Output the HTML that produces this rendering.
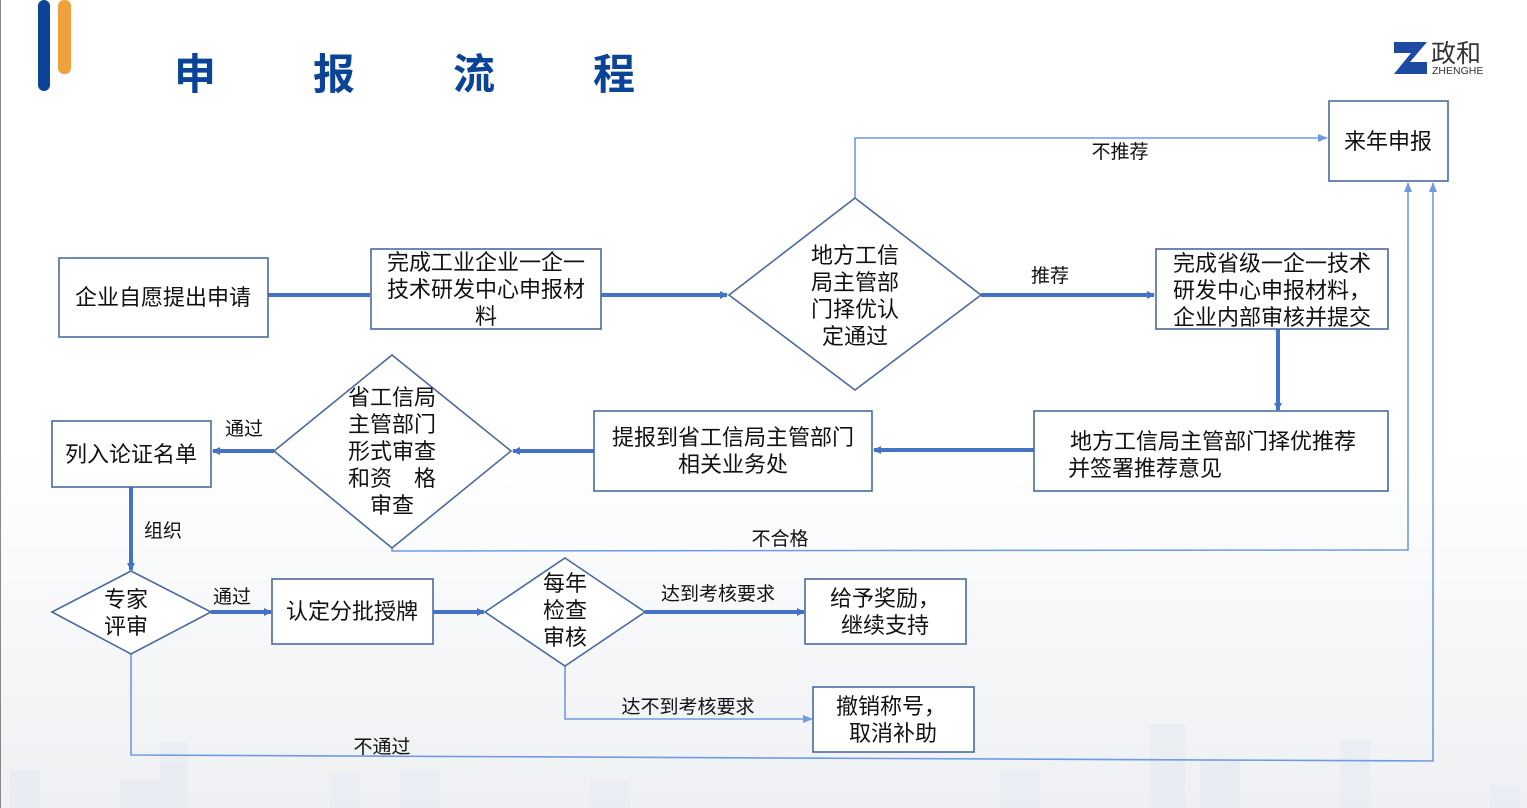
<!DOCTYPE html>
<html><head><meta charset="utf-8"><style>
html,body{margin:0;padding:0;width:1527px;height:808px;overflow:hidden;background:#fff}
svg{display:block}
text{font-family:"Liberation Sans","Noto Sans CJK SC",sans-serif;fill:#111}
</style></head><body>
<svg width="1527" height="808" viewBox="0 0 1527 808" xmlns="http://www.w3.org/2000/svg">
<defs>
<linearGradient id="bg" x1="0" y1="0" x2="0" y2="1">
<stop offset="0" stop-color="#ffffff"/><stop offset="0.55" stop-color="#ffffff"/><stop offset="1" stop-color="#eef0f3"/>
</linearGradient>
<marker id="ta" markerWidth="8" markerHeight="8" refX="7" refY="4" orient="auto" markerUnits="userSpaceOnUse"><path d="M0,0 L8,4 L0,8 Z" fill="#4472c4"/></marker>
<marker id="na" markerWidth="10" markerHeight="8" refX="9" refY="4" orient="auto" markerUnits="userSpaceOnUse"><path d="M0,0 L10,4 L0,8 Z" fill="#6f9be0"/></marker>
</defs>
<rect width="1527" height="808" fill="url(#bg)"/>
<g fill="#e6ebf3" opacity="0.6">
<rect x="10" y="770" width="30" height="38"/><rect x="120" y="780" width="40" height="28"/><rect x="160" y="742" width="28" height="66"/><rect x="330" y="772" width="30" height="36"/><rect x="400" y="770" width="40" height="38"/><rect x="1150" y="725" width="35" height="83"/><rect x="1200" y="760" width="40" height="48"/><rect x="1340" y="740" width="30" height="68"/><rect x="1490" y="785" width="30" height="23"/><rect x="1000" y="770" width="40" height="38"/><rect x="590" y="780" width="40" height="28"/>
</g>
<line x1="0.5" y1="0" x2="0.5" y2="808" stroke="#888" stroke-width="1"/>
<rect x="38" y="0" width="12" height="91" rx="6" fill="#0b4497"/>
<rect x="58" y="0" width="13" height="74" rx="6" fill="#f0a03c"/>
<g font-size="42" font-weight="bold">
<text x="174" y="89" style="fill:#0b4497">申</text><text x="313" y="89" style="fill:#0b4497">报</text><text x="453" y="89" style="fill:#0b4497">流</text><text x="593" y="89" style="fill:#0b4497">程</text>
</g>
<path d="M1394,42 H1427 L1410,62 H1427 V74 H1394 L1411,53 H1394 Z" fill="#1d4aa3"/>
<text x="1431" y="62" font-size="25" style="fill:#333">政和</text>
<text x="1432" y="74" font-size="10.5" style="fill:#333">ZHENGHE</text>

<g stroke="#6f9be0" stroke-width="1.6" fill="none">
<polyline points="855,198 855,138 1327,138" marker-end="url(#na)"/>
<polyline points="392,548 392,551 1408,550 1408,183" marker-end="url(#na)"/>
<polyline points="565,666 565,719 812,719" marker-end="url(#na)"/>
<polyline points="131,654 131,755 1433,761 1433,183" marker-end="url(#na)"/>
</g>
<g stroke="#4472c4" stroke-width="4" fill="none">
<line x1="268" y1="295" x2="370" y2="295"/>
<line x1="601" y1="295" x2="727" y2="295" marker-end="url(#ta)"/>
<line x1="981" y1="295" x2="1154" y2="295" marker-end="url(#ta)"/>
<line x1="1278" y1="329" x2="1278" y2="410" marker-end="url(#ta)"/>
<line x1="1034" y1="450" x2="874" y2="450" marker-end="url(#ta)"/>
<line x1="594" y1="451" x2="513" y2="451" marker-end="url(#ta)"/>
<line x1="274" y1="451" x2="213" y2="451" marker-end="url(#ta)"/>
<line x1="131" y1="487" x2="131" y2="570" marker-end="url(#ta)"/>
<line x1="211" y1="612" x2="271" y2="612" marker-end="url(#ta)"/>
<line x1="433" y1="612" x2="484" y2="612" marker-end="url(#ta)"/>
<line x1="645" y1="612" x2="804" y2="612" marker-end="url(#ta)"/>
</g>
<g fill="#fff" stroke="#4a6a9e" stroke-width="1.6">
<rect x="59" y="258" width="209" height="79"/>
<rect x="371" y="249" width="230" height="80"/>
<polygon points="855,198 981,295 855,390 729,295"/>
<rect x="1156" y="249" width="232" height="80"/>
<rect x="1329" y="101" width="119" height="80"/>
<rect x="1034" y="411" width="354" height="80"/>
<rect x="594" y="411" width="278" height="80"/>
<polygon points="392,355 511,451 392,548 274,451"/>
<rect x="52" y="421" width="159" height="66"/>
<polygon points="131,571 211,612 131,654 52,612"/>
<rect x="272" y="579" width="161" height="65"/>
<polygon points="565,558 645,612 565,666 485,612"/>
<rect x="805" y="579" width="161" height="65"/>
<rect x="813" y="687" width="161" height="65"/>
</g>
<g font-size="22" text-anchor="middle">
<text x="163" y="305">企业自愿提出申请</text>
<text x="486" y="270">完成工业企业一企一</text><text x="486" y="297">技术研发中心申报材</text><text x="486" y="324">料</text>
<text x="855" y="263">地方工信</text><text x="855" y="290">局主管部</text><text x="855" y="317">门择优认</text><text x="855" y="344">定通过</text>
<text x="1272" y="271">完成省级一企一技术</text><text x="1272" y="298">研发中心申报材料，</text><text x="1272" y="325">企业内部审核并提交</text>
<text x="1388" y="149">来年申报</text>
<text x="1213" y="449">地方工信局主管部门择优推荐</text>
<text x="733" y="445">提报到省工信局主管部门</text><text x="733" y="472">相关业务处</text>
<text x="392" y="405">省工信局</text><text x="392" y="432">主管部门</text><text x="392" y="459">形式审查</text><text x="392" y="486">和资　格</text><text x="392" y="513">审查</text>
<text x="131" y="462">列入论证名单</text>
<text x="126" y="607">专家</text><text x="126" y="634">评审</text>
<text x="352" y="619">认定分批授牌</text>
<text x="565" y="591">每年</text><text x="565" y="618">检查</text><text x="565" y="645">审核</text>
<text x="885" y="606">给予奖励，</text><text x="885" y="633">继续支持</text>
<text x="891" y="714">撤销称号，</text><text x="893" y="741">取消补助</text>
</g>
<text x="1068" y="476" font-size="22">并签署推荐意见</text>
<g font-size="19" text-anchor="middle">
<text x="1120" y="158">不推荐</text>
<text x="1050" y="282">推荐</text>
<text x="244" y="435">通过</text>
<text x="780" y="545">不合格</text>
<text x="163" y="537">组织</text>
<text x="232" y="603">通过</text>
<text x="718" y="600">达到考核要求</text>
<text x="688" y="713">达不到考核要求</text>
<text x="382" y="753">不通过</text>
</g>
</svg>
</body></html>
